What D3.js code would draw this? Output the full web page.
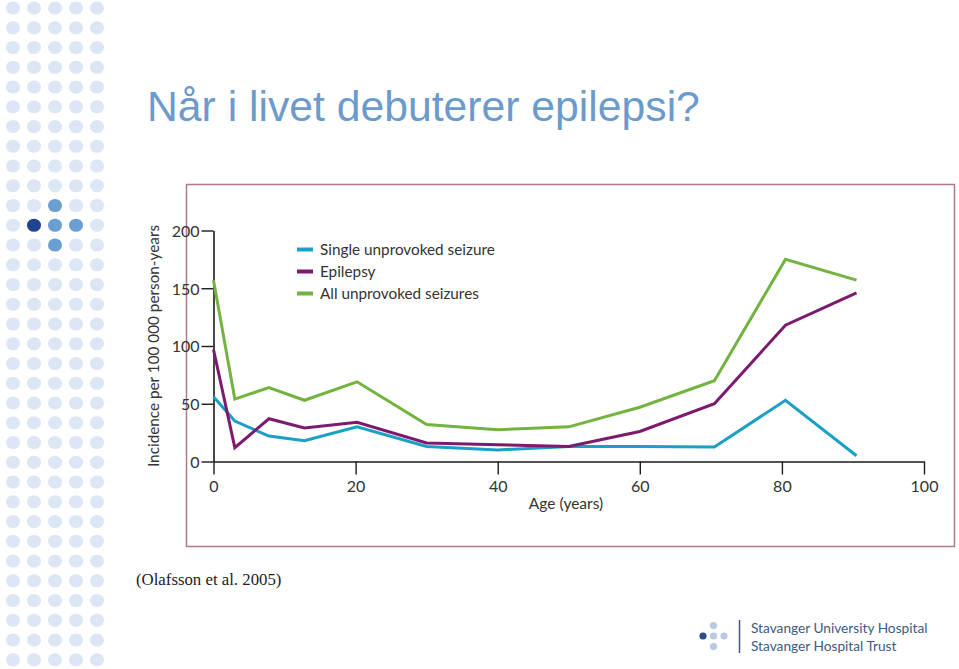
<!DOCTYPE html>
<html>
<head>
<meta charset="utf-8">
<script src="https://cdn.jsdelivr.net/npm/d3@7"></script>
<style>
  html, body { margin: 0; padding: 0; background: #ffffff; }
  svg { display: block; }
</style>
</head>
<body>
<svg id="chart" width="959" height="669"></svg>
<script>
// ---------- data ----------
const ages = [0, 3, 7.8, 12.8, 20.2, 30, 40, 50, 60, 70.5, 80.5, 90.5];
const singleSeizure = [56, 35, 22, 18, 30, 13, 10, 13, 13, 12.5, 53, 5];
const epilepsy = [97, 12, 37, 29, 34, 16, 14.5, 13, 26, 50, 118, 146];
const allUnprovoked = [157, 54, 64, 53, 69, 32, 27.5, 30, 47, 70, 175, 157];
const seriesNames = ["Single unprovoked seizure", "Epilepsy", "All unprovoked seizures"];
const seriesColors = ["#1a9fc6", "#7c1b6e", "#72b43f"];
const xTicks = [0, 20, 40, 60, 80, 100];
const yTicks = [0, 50, 100, 150, 200];
const titleText = "Når i livet debuterer epilepsi?";
const yLabel = "Incidence per 100 000 person-years";
const xLabel = "Age (years)";
const citation = "(Olafsson et al. 2005)";
const logoLines = ["Stavanger University Hospital", "Stavanger Hospital Trust"];

const svg = d3.select("#chart");

// ---------- decorative dot grid ----------
const cols = d3.range(5), rows = d3.range(34);
const highlight = {"10-2": "#6a9fd4", "11-1": "#1f4590", "11-2": "#6a9fd4", "11-3": "#6a9fd4", "12-2": "#6a9fd4"};
const dotG = svg.append("g");
rows.forEach(r => cols.forEach(c => {
  dotG.append("ellipse")
    .attr("cx", 13 + c * 21)
    .attr("cy", 8 + r * 19.75)
    .attr("rx", 7).attr("ry", 6.6)
    .attr("fill", highlight[r + "-" + c] || "#dce6f4");
}));

// ---------- title ----------
svg.append("text")
  .attr("x", 147).attr("y", 121)
  .attr("font-family", "Liberation Sans, Arial, sans-serif")
  .attr("font-size", 42.7)
  .attr("fill", "#6b9bcc")
  .text(titleText);

// ---------- chart frame ----------
svg.append("rect")
  .attr("x", 186.5).attr("y", 184.5)
  .attr("width", 768).attr("height", 362)
  .attr("fill", "#ffffff")
  .attr("stroke", "#b07890").attr("stroke-width", 1.5);

const x = d3.scaleLinear().domain([0, 100]).range([213.5, 924]);
const y = d3.scaleLinear().domain([0, 200]).range([461.5, 230.5]);
const font = "Lato, 'Open Sans', sans-serif";

const xAxis = svg.append("g")
  .attr("transform", `translate(0,${y(0)})`)
  .call(d3.axisBottom(x).tickValues(xTicks).tickSize(13).tickPadding(6).tickSizeOuter(0));
const yAxis = svg.append("g")
  .attr("transform", `translate(${x(0)},0)`)
  .call(d3.axisLeft(y).tickValues(yTicks).tickSize(12).tickPadding(2).tickSizeOuter(0));
[xAxis, yAxis].forEach(a => {
  a.select(".domain").attr("stroke", "#1a1a1a").attr("stroke-width", 1.6);
  a.selectAll(".tick line").attr("stroke", "#1a1a1a").attr("stroke-width", 1.4);
  a.selectAll(".tick text").attr("font-family", font).attr("font-size", 16).attr("fill", "#333333");
});
yAxis.selectAll(".tick text").attr("dy", "0.36em");

// axis labels
svg.append("text")
  .attr("transform", `translate(159,${(y(0) + y(200)) / 2}) rotate(-90)`)
  .attr("text-anchor", "middle")
  .attr("font-family", font).attr("font-size", 15.3).attr("fill", "#333333")
  .text(yLabel);
svg.append("text")
  .attr("x", 566).attr("y", 509)
  .attr("text-anchor", "middle")
  .attr("font-family", font).attr("font-size", 15.5).attr("fill", "#333333")
  .text(xLabel);

// ---------- lines ----------
const allSeries = [singleSeizure, epilepsy, allUnprovoked];
const line = d3.line().x((d, i) => x(ages[i])).y(d => y(d));
allSeries.forEach((vals, k) => {
  svg.append("path")
    .datum(vals)
    .attr("d", line)
    .attr("fill", "none")
    .attr("stroke", seriesColors[k])
    .attr("stroke-width", 3)
    .attr("stroke-linejoin", "miter");
});

// ---------- legend ----------
const legend = svg.append("g");
seriesNames.forEach((name, k) => {
  const ly = 249.5 + k * 22;
  legend.append("line")
    .attr("x1", 297).attr("x2", 313).attr("y1", ly).attr("y2", ly)
    .attr("stroke", seriesColors[k]).attr("stroke-width", 4);
  legend.append("text")
    .attr("x", 320).attr("y", ly + 5)
    .attr("font-family", font).attr("font-size", 15.3).attr("fill", "#333333")
    .text(name);
});

// ---------- citation ----------
svg.append("text")
  .attr("x", 136).attr("y", 585)
  .attr("font-family", "Liberation Serif, 'Times New Roman', serif")
  .attr("font-size", 16.8).attr("fill", "#222222")
  .text(citation);

// ---------- logo ----------
const logo = svg.append("g");
[[703, 636, "#2a4f8c"], [713.5, 625.5, "#b9c9e2"], [713.5, 636, "#b9c9e2"], [724, 636, "#b9c9e2"], [713.5, 646.5, "#b9c9e2"]]
  .forEach(d => logo.append("circle").attr("cx", d[0]).attr("cy", d[1]).attr("r", 3.6).attr("fill", d[2]));
logo.append("line").attr("x1", 739.5).attr("x2", 739.5).attr("y1", 620).attr("y2", 653)
  .attr("stroke", "#3e5a80").attr("stroke-width", 1.5);
logoLines.forEach((t, i) => {
  logo.append("text")
    .attr("x", 751).attr("y", 633 + i * 18)
    .attr("font-family", font).attr("font-size", 13.7).attr("fill", "#3e5a80")
    .text(t);
});
</script>
</body>
</html>
